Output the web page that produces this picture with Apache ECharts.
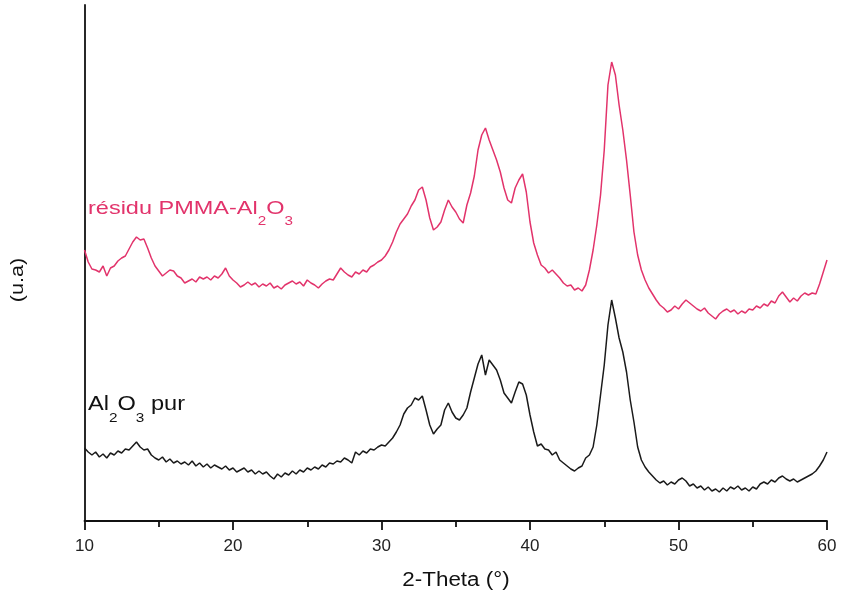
<!DOCTYPE html>
<html><head><meta charset="utf-8">
<script src="https://cdn.jsdelivr.net/npm/echarts@6/dist/echarts.min.js"></script>
<style>html,body{margin:0;padding:0;background:#fff}#c{width:843px;height:601px}</style>
</head><body><div id="c"></div>
<script>
// 2-Theta values (degrees), step 0.25 from 10 to 60
const twoTheta = [];
for (let i = 0; i <= 200; i++) twoTheta.push(10 + i * 0.25);

const xTicks = [10, 20, 30, 40, 50, 60];

// Intensity (u.a) (height above the x axis), 4 values per degree
const residuPMMA = [
/*10*/271,259,252,251, /*11*/249,255,245,253, /*12*/255,260,263,265, /*13*/272,279,284,281,
/*14*/282,273,263,255, /*15*/250,245,248,251, /*16*/250,245,243,238, /*17*/240,242,239,244,
/*18*/242,244,241,245, /*19*/243,247,253,245, /*20*/241,238,234,236, /*21*/239,236,238,234,
/*22*/237,235,238,233, /*23*/235,232,236,238, /*24*/240,237,239,235, /*25*/241,238,236,233,
/*26*/237,240,242,241, /*27*/247,253,249,246, /*28*/244,249,247,251, /*29*/249,254,256,259,
/*30*/261,265,271,279, /*31*/289,297,302,307, /*32*/315,321,331,334, /*33*/321,303,291,294,
/*34*/299,311,321,314, /*35*/309,302,298,316, /*36*/328,345,371,386, /*37*/393,381,371,361,
/*38*/349,333,321,318, /*39*/333,341,347,329, /*40*/299,278,266,256, /*41*/253,248,251,247,
/*42*/243,238,235,236, /*43*/231,233,230,236, /*44*/251,271,296,326, /*45*/371,436,459,446,
/*46*/416,391,361,326, /*47*/289,266,251,241, /*48*/233,227,221,216, /*49*/213,209,211,215,
/*50*/212,217,221,218, /*51*/215,212,210,213, /*52*/208,205,202,207, /*53*/210,212,209,211,
/*54*/207,210,208,212, /*55*/211,215,213,217, /*56*/215,220,218,225, /*57*/229,224,219,223,
/*58*/220,225,228,226, /*59*/228,227,237,249, /*60*/261
];
const al2o3Pur = [
/*10*/73,69,66,69, /*11*/64,67,63,68, /*12*/66,70,68,72, /*13*/71,75,79,74,
/*14*/71,72,66,63, /*15*/61,64,59,62, /*16*/58,60,57,59, /*17*/56,60,55,58,
/*18*/54,57,53,56, /*19*/54,52,55,51, /*20*/53,49,51,53, /*21*/49,51,47,50,
/*22*/47,49,45,42, /*23*/47,44,48,46, /*24*/50,47,51,49, /*25*/53,51,54,52,
/*26*/56,54,58,57, /*27*/60,59,63,61, /*28*/58,69,66,70, /*29*/68,72,71,74,
/*30*/76,75,79,83, /*31*/89,96,107,113, /*32*/116,123,121,125, /*33*/111,96,87,92,
/*34*/96,111,118,109, /*35*/103,101,106,113, /*36*/129,143,157,166, /*37*/146,161,156,151,
/*38*/141,128,123,118, /*39*/129,139,137,126, /*40*/106,89,75,77, /*41*/72,71,66,69,
/*42*/61,58,55,52, /*43*/50,53,55,63, /*44*/66,74,96,126, /*45*/156,196,221,203,
/*46*/183,169,149,121, /*47*/99,74,61,54, /*48*/49,45,41,38, /*49*/40,36,39,37,
/*50*/41,43,40,35, /*51*/37,33,35,31, /*52*/34,30,32,29, /*53*/33,30,34,32,
/*54*/35,31,33,30, /*55*/34,32,37,39, /*56*/37,41,39,43, /*57*/45,42,40,42,
/*58*/39,41,43,45, /*59*/47,50,55,61, /*60*/69
];

const chart = echarts.init(document.getElementById('c'), null, {renderer: 'canvas'});
const FONT = '"Liberation Sans", Arial, sans-serif';
const pink = '#e2336b';
const ink = '#111';

chart.setOption({
  animation: false,
  backgroundColor: '#fff',
  grid: {left: 84.5, right: 16, top: 5, bottom: 80},
  xAxis: {
    type: 'value', min: 10, max: 60, interval: 10,
    axisLine: {show: true, lineStyle: {color: ink, width: 1.8}},
    axisTick: {show: true, length: 9, lineStyle: {color: ink, width: 1.8}},
    minorTick: {show: true, splitNumber: 2, length: 6, lineStyle: {color: ink, width: 1.8}},
    splitLine: {show: false},
    axisLabel: {fontFamily: FONT, fontSize: 17, color: '#222', margin: 17,
      formatter: v => xTicks.includes(v) ? String(v) : ''}
  },
  yAxis: {
    type: 'value', min: 0, max: 516,
    axisLine: {show: true, lineStyle: {color: ink, width: 1.8}},
    axisTick: {show: false}, axisLabel: {show: false}, splitLine: {show: false}
  },
  series: [
    {name: 'résidu PMMA-Al2O3', type: 'line', showSymbol: false, symbol: 'none',
     data: twoTheta.map((x, i) => [x, residuPMMA[i]]),
     lineStyle: {color: pink, width: 1.5}},
    {name: 'Al2O3 pur', type: 'line', showSymbol: false, symbol: 'none',
     data: twoTheta.map((x, i) => [x, al2o3Pur[i]]),
     lineStyle: {color: '#1a1a1a', width: 1.5}}
  ],
  graphic: [
    {type: 'text', x: 88, y: 197, scaleX: 1.27, style: {
      text: '{a|résidu PMMA-Al}{s|2}{a|O}{s|3}',
      rich: {a: {fontFamily: FONT, fontSize: 18.5, fill: pink, height: 24, verticalAlign: 'top'},
             s: {fontFamily: FONT, fontSize: 12, fill: pink, height: 24, padding: [13, 0, 0, 0], verticalAlign: 'top'}}
    }},
    {type: 'text', x: 88, y: 392, scaleX: 1.18, style: {
      text: '{a|Al}{s|2}{a|O}{s|3}{a| pur}',
      rich: {a: {fontFamily: FONT, fontSize: 20, fill: ink, height: 24, verticalAlign: 'top'},
             s: {fontFamily: FONT, fontSize: 13, fill: ink, height: 24, padding: [14, 0, 0, 0], verticalAlign: 'top'}}
    }},
    {type: 'text', x: 456, y: 580, scaleX: 1.12, style: {
      text: '2-Theta (°)', fontFamily: FONT, fontSize: 20, fill: ink, align: 'center', verticalAlign: 'middle'
    }},
    {type: 'text', x: 18, y: 280, rotation: Math.PI / 2, scaleX: 1.2, style: {
      text: '(u.a)', fontFamily: FONT, fontSize: 18, fill: ink, align: 'center', verticalAlign: 'middle'
    }}
  ]
});
</script></body></html>
